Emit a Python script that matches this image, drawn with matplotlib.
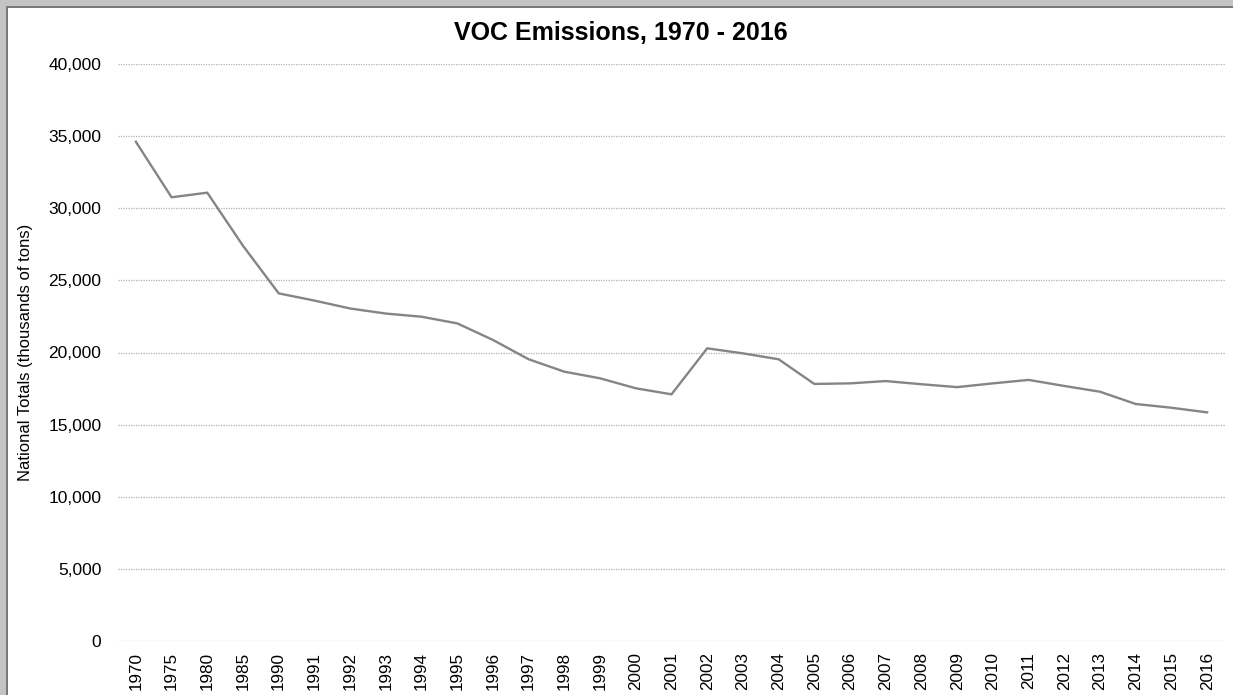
import matplotlib
matplotlib.use("Agg")
import matplotlib.pyplot as plt
from matplotlib.patches import Rectangle

years = ["1970", "1975", "1980", "1985"] + [str(y) for y in range(1990, 2017)]
voc = [34610, 30760, 31080, 27400, 24100, 23600, 23050, 22700, 22480, 22020,
       20870, 19530, 18670, 18210, 17520, 17100, 20290, 19940, 19530, 17820,
       17860, 18020, 17800, 17600, 17860, 18100, 17680, 17280, 16430, 16170,
       15850]
yticks = [0, 5000, 10000, 15000, 20000, 25000, 30000, 35000, 40000]

plt.rcParams['font.family'] = ['Liberation Sans', 'DejaVu Sans']

fig = plt.figure(figsize=(12.33, 6.95), dpi=100)
fig.patch.set_facecolor('white')
# scanned frame at left and top
fig.patches.append(Rectangle((0, 0), 7 / 1233, 1, transform=fig.transFigure,
                             facecolor='#c4c4c4', edgecolor='none', zorder=0))
fig.patches.append(Rectangle((0, 1 - 7 / 695), 1, 7 / 695, transform=fig.transFigure,
                             facecolor='#c4c4c4', edgecolor='none', zorder=0))
fig.patches.append(Rectangle((6 / 1233, 0), 2 / 1233, 1 - 6 / 695, transform=fig.transFigure,
                             facecolor='#7a7a7a', edgecolor='none', zorder=1))
fig.patches.append(Rectangle((6 / 1233, 1 - 8 / 695), 1 - 6 / 1233, 2 / 695, transform=fig.transFigure,
                             facecolor='#7a7a7a', edgecolor='none', zorder=1))

ax = fig.add_axes([118 / 1233, 1 - 641 / 695, (1225 - 118) / 1233, (641 - 64) / 695])
x = list(range(len(years)))
ax.plot(x, voc, color='#858585', linewidth=1.7, zorder=3)

ax.set_xlim(-0.5, len(years) - 0.5)
ax.set_ylim(0, 40000)
ax.set_yticks(yticks)
ax.set_yticklabels([f"{v:,}" for v in yticks], fontsize=12.5)
ax.set_xticks(x)
ax.set_xticklabels(years, rotation=90, fontsize=12.3)
ax.tick_params(axis='both', length=0, colors='black')
ax.tick_params(axis='y', pad=12)
ax.tick_params(axis='x', pad=8)
ax.grid(axis='y', color='#b0b0b0', linestyle=(0, (1, 1)), linewidth=0.9, zorder=0)
for s in ax.spines.values():
    s.set_visible(False)

ax.set_ylabel("National Totals (thousands of tons)", fontsize=12)
ax.yaxis.set_label_coords(-85 / 1107, 0.5)
fig.text(621 / 1233, 1 - 33 / 695, "VOC Emissions, 1970 - 2016", ha='center', va='center',
         fontsize=18, fontweight='bold')

fig.savefig("out.png", dpi=100)
